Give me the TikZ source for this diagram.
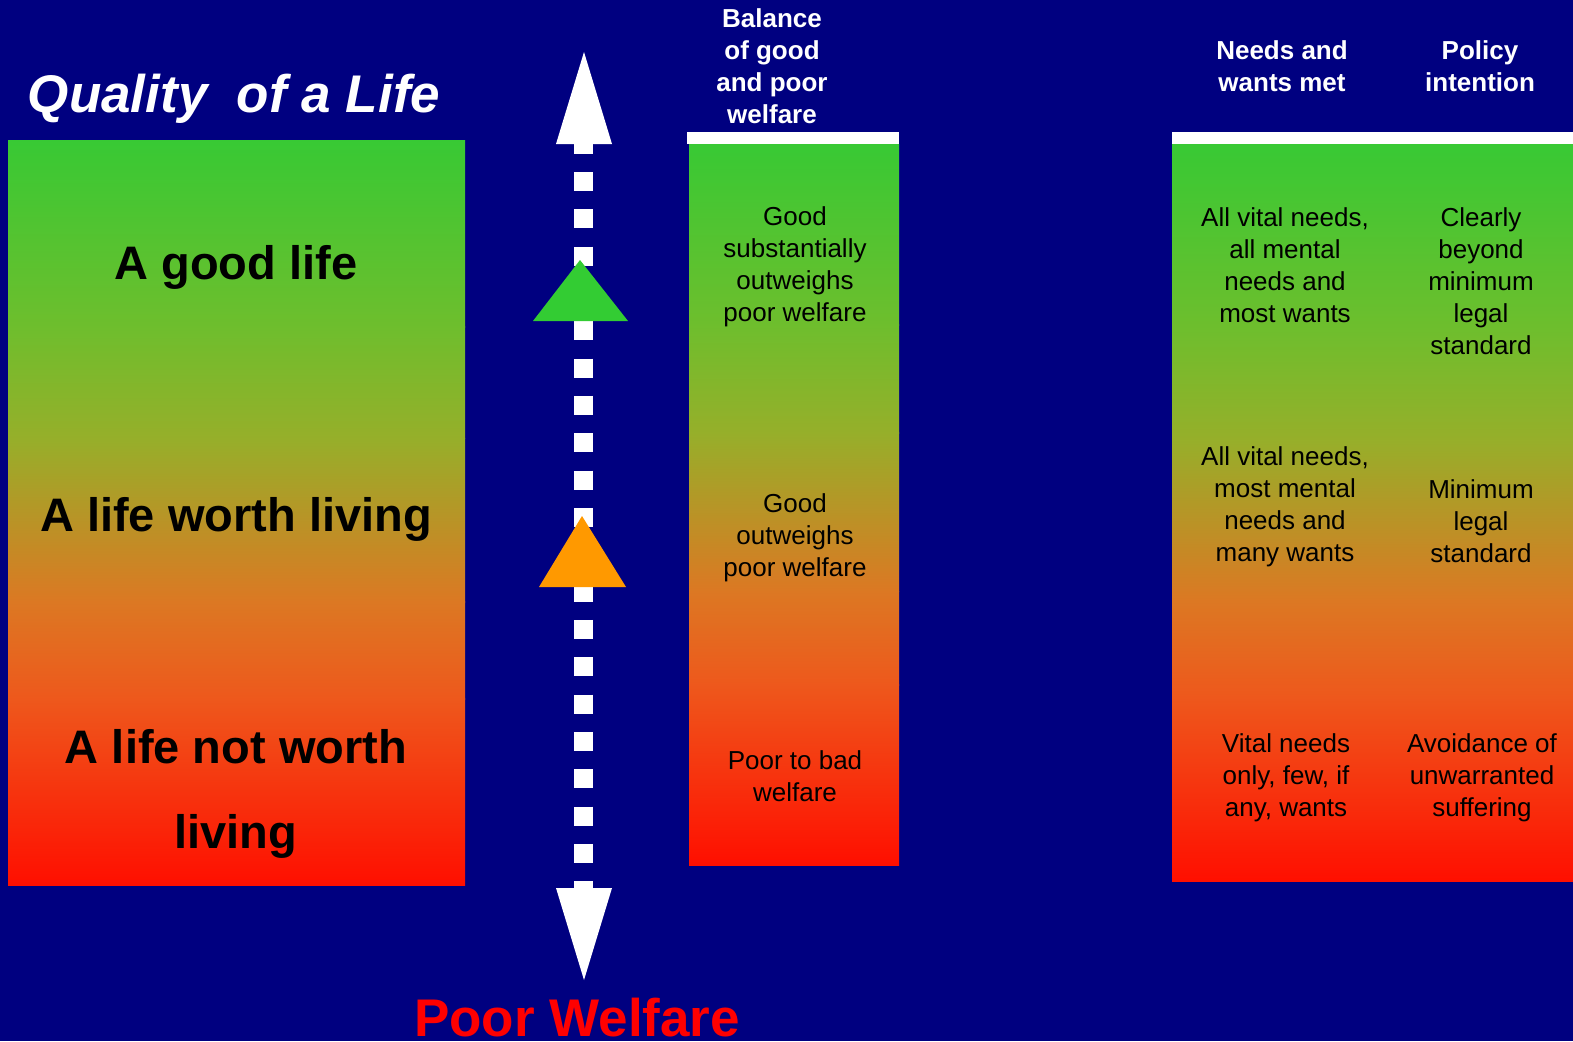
\documentclass[tikz,border=0pt]{standalone}
\usepackage{fontspec}
\setmainfont{Liberation Sans}
\definecolor{navybg}{RGB}{0,0,128}
\definecolor{g0}{RGB}{56,201,52}
\definecolor{g1}{RGB}{110,190,45}
\definecolor{g2}{RGB}{150,175,42}
\definecolor{g3}{RGB}{220,120,35}
\definecolor{g4}{RGB}{238,88,28}
\definecolor{g5}{RGB}{255,15,0}
\definecolor{trigreen}{RGB}{51,204,51}
\definecolor{triorange}{RGB}{255,153,0}
\definecolor{poorred}{RGB}{255,0,0}
\newcommand\gradfill[4]{%
  \foreach \fa/\fb/\ca/\cb in {0/0.25/g0/g1, 0.25/0.40/g1/g2, 0.40/0.62/g2/g3, 0.62/0.75/g3/g4, 0.75/1/g4/g5}{%
    \shade[top color=\ca, bottom color=\cb] (#1,{#2+\fa*(#4-#2)}) rectangle (#3,{min(#2+\fb*(#4-#2)+0.8,#4)});
  }%
}
\tikzset{
  bigtext/.style={font=\fontsize{47}{85}\selectfont\bfseries, text=black, inner sep=0pt, align=center},
  bodytext/.style={font=\fontsize{26}{32}\selectfont, text=black, inner sep=0pt, align=center},
  headtext/.style={font=\fontsize{26}{32}\selectfont\bfseries, text=white, inner sep=0pt, align=center},
  whitebar/.style={fill=white},
}
\begin{document}
\begin{tikzpicture}[x=1pt,y=-1pt]
\useasboundingbox (0,0) rectangle (1573,1041);
\fill[navybg] (0,0) rectangle (1573,1041);

% gradient boxes
\gradfill{8}{140}{465}{885}
\gradfill{689}{144}{899}{865}
\gradfill{1172}{144}{1573}{881}
\fill[whitebar] (687,132) rectangle (899,144);
\fill[whitebar] (1172,132) rectangle (1573,144);

% title
\node[font=\fontsize{53}{60}\selectfont\bfseries\itshape, text=white, inner sep=0pt, anchor=base] (title) at (234,112) {Quality~~of a Life};

% left box texts
\node[bigtext, anchor=base] (good) at (236,279) {A good life};
\node[bigtext, anchor=base] (worth) at (236,531) {A life worth living};
\node[bigtext] (notworth) at (236,794) {A life not worth\\living};

% arrow
\coordinate (atop) at (584,52);
\coordinate (abot) at (584,980);
\coordinate (shafttop) at (583.5,144);
\coordinate (shaftbot) at (583.5,888);
\draw[white, line width=19pt, dash pattern=on 19pt off 18.33pt, dash phase=9.33pt] (shafttop) -- (shaftbot);
\fill[white] (556,144) -- (atop) -- (612,144) -- cycle;
\fill[white] (556,888) -- (abot) -- (612,888) -- cycle;
\fill[trigreen] (533,321) -- (580,260) -- (628,321) -- cycle;
\fill[triorange] (539,587) -- (582,516) -- (626,587) -- cycle;

\node[font=\fontsize{53}{60}\selectfont\bfseries, text=poorred, inner sep=0pt, anchor=base] (poor) at (577,1036) {Poor Welfare};

% middle column
\node[headtext] (balance) at (772,66) {Balance\\of good\\and poor\\welfare};
\node[bodytext] (m1) at (795,267) {Good\\substantially\\outweighs\\poor welfare};
\node[bodytext] (m2) at (795,538) {Good\\outweighs\\poor welfare};
\node[bodytext] (m3) at (795,776) {Poor to bad\\welfare};

% right columns
\node[headtext] (needs) at (1282,66) {Needs and\\wants met};
\node[headtext] (policy) at (1480,66) {Policy\\intention};
\node[bodytext] (r1) at (1285,265) {All vital needs,\\all mental\\needs and\\most wants};
\node[bodytext] (p1) at (1481,281) {Clearly\\beyond\\minimum\\legal\\standard};
\node[bodytext] (r2) at (1285,507) {All vital needs,\\most mental\\needs and\\many wants};
\node[bodytext] (p2) at (1481,521) {Minimum\\legal\\standard};
\node[bodytext] (r3) at (1286,778) {Vital needs\\only, few, if\\any, wants};
\node[bodytext] (p3) at (1482,778) {Avoidance of\\unwarranted\\suffering};
\end{tikzpicture}
\end{document}
